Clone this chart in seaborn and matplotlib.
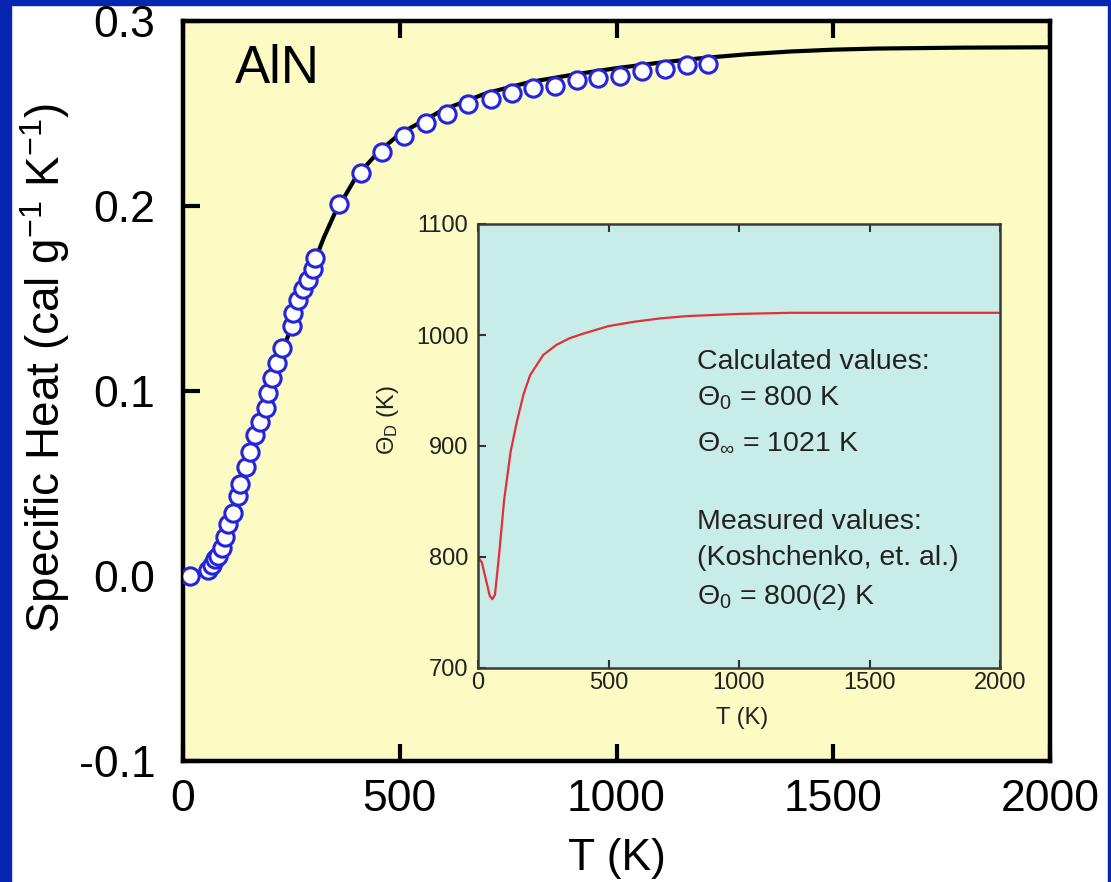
import matplotlib
matplotlib.use("Agg")
import matplotlib.pyplot as plt
import seaborn as sns
import pandas as pd
from matplotlib.patches import Rectangle

sns.set_theme(style="ticks")
plt.rcParams['font.family'] = ['Liberation Sans', 'DejaVu Sans']
plt.rcParams['mathtext.fontset'] = 'custom'
plt.rcParams['mathtext.rm'] = 'Liberation Sans'
plt.rcParams['mathtext.it'] = 'Liberation Sans'
plt.rcParams['mathtext.bf'] = 'Liberation Sans:bold'

# ---- data: specific heat of AlN ----
line_T = [0, 25, 50, 75, 100, 125, 150, 175, 200, 225, 250, 275, 300, 325, 350,
          400, 450, 500, 600, 700, 800, 900, 1000, 1100, 1200, 1300, 1400, 1500,
          1600, 1800, 2000]
line_C = [0.0, 0.0005, 0.003, 0.011, 0.025, 0.043, 0.062, 0.081, 0.100, 0.118,
          0.135, 0.152, 0.168, 0.183, 0.196, 0.216, 0.229, 0.239, 0.252, 0.261,
          0.267, 0.271, 0.2745, 0.2775, 0.2800, 0.2820, 0.2835, 0.2845,
          0.2851, 0.2856, 0.2858]

meas_T = [16, 58, 67, 74, 81, 90, 97, 104, 115, 127, 131, 145, 155, 166, 178,
          191, 196, 205, 217, 228, 251, 254, 265, 277, 288, 300, 305,
          361, 410, 458, 510, 561, 608, 658, 710, 758, 808, 858, 908, 958,
          1008, 1058, 1112, 1162, 1212]
meas_C = [0.0, 0.003, 0.006, 0.009, 0.011, 0.015, 0.021, 0.028, 0.034, 0.043,
          0.050, 0.059, 0.067, 0.076, 0.083, 0.091, 0.099, 0.107, 0.115, 0.123,
          0.135, 0.142, 0.149, 0.155, 0.160, 0.166, 0.172,
          0.201, 0.218, 0.229, 0.238, 0.245, 0.250, 0.255, 0.258, 0.261, 0.264,
          0.265, 0.268, 0.269, 0.270, 0.273, 0.274, 0.276, 0.277]

# ---- data: Debye temperature (inset) ----
debye_T = [0, 15, 30, 45, 55, 65, 80, 100, 125, 150, 175, 200, 250, 300, 350,
           400, 500, 600, 700, 800, 1000, 1200, 1500, 2000]
debye_theta = [800, 795, 780, 765, 762, 766, 800, 851, 895, 923, 947, 964, 982,
               991, 997, 1001, 1008, 1012, 1015, 1017, 1019, 1020, 1020, 1020]

main_xticks = [0, 500, 1000, 1500, 2000]
main_yticks = [-0.1, 0.0, 0.1, 0.2, 0.3]
main_ytick_labels = ["-0.1", "0.0", "0.1", "0.2", "0.3"]
inset_xticks = [0, 500, 1000, 1500, 2000]
inset_yticks = [700, 800, 900, 1000, 1100]

notes = ["Calculated values:", r"$\Theta_0$ = 800 K", r"$\Theta_\infty$ = 1021 K",
         "Measured values:", "(Koshchenko, et. al.)", r"$\Theta_0$ = 800(2) K"]

df_line = pd.DataFrame({"T": line_T, "C": line_C})
df_meas = pd.DataFrame({"T": meas_T, "C": meas_C})
df_debye = pd.DataFrame({"T": debye_T, "theta": debye_theta})

W, H = 1111, 882
fig = plt.figure(figsize=(W / 100, H / 100), dpi=100)
fig.patch.set_facecolor("white")

blue = "#0526b0"
fig.add_artist(Rectangle((0, 0), 11 / W, 1, transform=fig.transFigure, color=blue, zorder=-1))
fig.add_artist(Rectangle((0, 1 - 5 / H), 1, 5 / H, transform=fig.transFigure, color=blue, zorder=-1))
fig.add_artist(Rectangle((1 - 3 / W, 0), 3 / W, 1, transform=fig.transFigure, color=blue, zorder=-1))

# main axes
ax = fig.add_axes([183 / W, 1 - 761 / H, (1050 - 183) / W, (761 - 21) / H])
ax.set_facecolor("#fbfbc3")
sns.lineplot(data=df_line, x="T", y="C", ax=ax, color="black", linewidth=3,
             sort=False, estimator=None, zorder=2)
sns.scatterplot(data=df_meas, x="T", y="C", ax=ax, marker="o", s=155,
                facecolor="white", edgecolor="#2424dc", linewidth=2.2, zorder=3)
ax.set_xlim(0, 2000)
ax.set_ylim(-0.1, 0.3)
ax.set_xticks(main_xticks)
ax.set_xticklabels([str(t) for t in main_xticks])
ax.set_yticks(main_yticks)
ax.set_yticklabels(main_ytick_labels)
ax.tick_params(axis="both", direction="in", length=12, width=3, labelsize=32,
               color="black", labelcolor="black")
ax.tick_params(axis="x", top=True, pad=13)
ax.tick_params(axis="y", right=False, pad=20)
for sp in ax.spines.values():
    sp.set_visible(True)
    sp.set_linewidth(3.2)
    sp.set_color("black")
ax.set_xlabel("T (K)", fontsize=32, labelpad=13, color="black")
ax.set_ylabel(r"Specific Heat (cal g$^{-1}$ K$^{-1}$)", fontsize=33, color="black")
ax.yaxis.label.set_va("center")
ax.yaxis.set_label_coords((45 - 183) / 867, (761 - 368) / 740)
ax.text(0.06, 0.935, "AlN", transform=ax.transAxes, fontsize=38, ha="left",
        va="center", color="black")

# inset
ins = fig.add_axes([478 / W, 1 - 668 / H, (1000 - 478) / W, (668 - 224) / H])
ins.set_facecolor("#c8ece8")
sns.lineplot(data=df_debye, x="T", y="theta", ax=ins, color="#e0303a",
             linewidth=1.6, sort=False, estimator=None)
ins.set_xlim(0, 2000)
ins.set_ylim(700, 1100)
ins.set_xticks(inset_xticks)
ins.set_yticks(inset_yticks)
ins.tick_params(axis="both", direction="in", length=6, width=1.5, labelsize=17,
                color="#333333", labelcolor="#222222")
ins.tick_params(axis="x", top=True, pad=3)
ins.tick_params(axis="y", right=False, pad=7)
for sp in ins.spines.values():
    sp.set_visible(True)
    sp.set_linewidth(1.8)
    sp.set_color("#3a3a3a")
ins.set_xlabel("T (K)", fontsize=17, color="#222222")
ins.xaxis.label.set_va("center")
ins.xaxis.set_label_coords((742 - 478) / 522, (668 - 718) / 444)
ins.set_ylabel(r"$\Theta_D$ (K)", fontsize=17, color="#222222")
ins.yaxis.label.set_va("center")
ins.yaxis.set_label_coords((388 - 478) / 522, (668 - 420) / 444)

note_y = [362, 398, 442, 522, 558, 597]
for txt, yp in zip(notes, note_y):
    ins.text((697 - 478) / (1000 - 478), (668 - yp) / (668 - 224), txt,
             transform=ins.transAxes, fontsize=20.5, ha="left", va="center",
             color="#222222")

fig.savefig("out.png", dpi=100, facecolor=fig.get_facecolor())
